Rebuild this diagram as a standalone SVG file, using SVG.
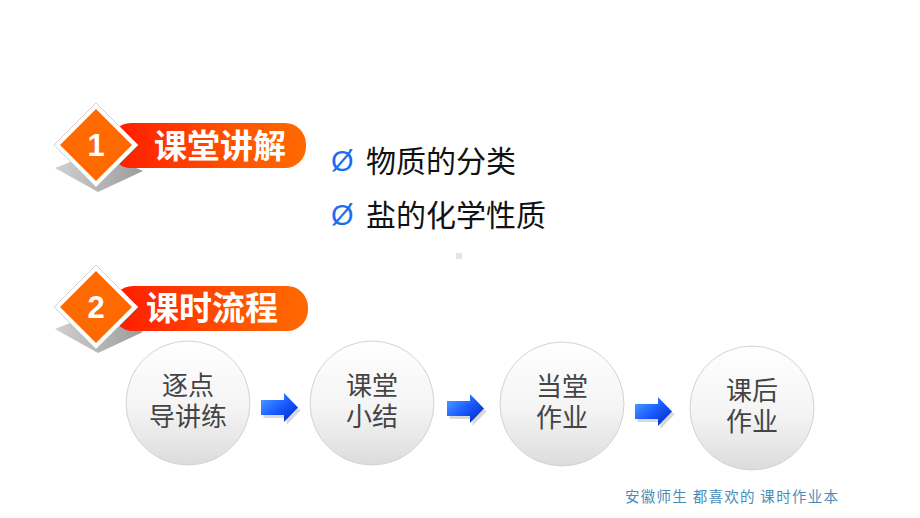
<svg xmlns="http://www.w3.org/2000/svg" width="920" height="518" viewBox="0 0 920 518">
<defs>
<linearGradient id="barG" x1="0" y1="0" x2="1" y2="0">
<stop offset="0" stop-color="#ff1a00"/><stop offset="0.6" stop-color="#ff5000"/><stop offset="1" stop-color="#ff6a00"/>
</linearGradient>
<linearGradient id="shadowG" x1="0" y1="0" x2="1" y2="0">
<stop offset="0" stop-color="#c8c8c8"/><stop offset="1" stop-color="#8a8a8a"/>
</linearGradient>
<linearGradient id="circG" x1="0" y1="0" x2="0" y2="1">
<stop offset="0" stop-color="#ffffff"/><stop offset="0.55" stop-color="#f4f4f4"/><stop offset="1" stop-color="#dcdcdc"/>
</linearGradient>
<linearGradient id="arrG" x1="0" y1="0" x2="1" y2="1">
<stop offset="0" stop-color="#55aaff"/><stop offset="0.5" stop-color="#1a5cff"/><stop offset="1" stop-color="#0022bb"/>
</linearGradient>
<path id="arrow" d="M0,7 H23 V0 L37,14.5 L23,29 V22 H0 Z"/>
</defs>
<style>
.badge{font-family:"Noto Sans CJK SC","Noto Sans",sans-serif;font-weight:bold;fill:#ffffff;font-size:33px}
.num{font-family:"Liberation Sans","Noto Sans",sans-serif;font-weight:bold;fill:#ffffff;font-size:31px}
.bul{font-family:"Liberation Sans",sans-serif;fill:#1a6ef0;font-size:29px}
.item{font-family:"Noto Sans CJK SC",sans-serif;fill:#111111;font-size:30px}
.node{fill:url(#circG);stroke:#d2d2d2;stroke-width:1}
.ntext{font-family:"Liberation Sans","Noto Sans CJK SC",sans-serif;fill:#444444;font-size:26px;text-anchor:middle}
.foot{font-family:"Noto Sans CJK SC",sans-serif;fill:#4a8db8;font-size:14.5px}
</style>
<rect width="920" height="518" fill="#ffffff"/>

<g id="badge1">
<polygon points="55,168 98,151 143,171 98,192" fill="url(#shadowG)" opacity="0.85"/>
<rect x="110" y="123" width="196" height="45" rx="21" fill="url(#barG)"/>
<polygon points="96,103 138,145 96,187 54,145" fill="#ffffff" stroke="#d0d0d0" stroke-width="1"/>
<polygon points="96,109 132,145 96,181 60,145" fill="#ff6a00"/>
<text class="num" x="96" y="156" text-anchor="middle">1</text>
<text class="badge" x="154" y="158">课堂讲解</text>
</g>

<g id="badge2">
<polygon points="55,329 98,312 143,332 98,353" fill="url(#shadowG)" opacity="0.85"/>
<rect x="112" y="286" width="196" height="45" rx="21" fill="url(#barG)"/>
<polygon points="96,265 138,307 96,349 54,307" fill="#ffffff" stroke="#d0d0d0" stroke-width="1"/>
<polygon points="96,271 132,307 96,343 60,307" fill="#ff6a00"/>
<text class="num" x="96" y="318" text-anchor="middle">2</text>
<text class="badge" x="146" y="320">课时流程</text>
</g>

<g id="bullets">
<text class="bul" x="331" y="171">Ø</text>
<text class="item" x="366" y="172">物质的分类</text>
<text class="bul" x="331" y="225">Ø</text>
<text class="item" x="366" y="226">盐的化学性质</text>
</g>

<rect x="456" y="253" width="6" height="6" fill="#e4e4e4"/>

<g id="node1">
<circle class="node" cx="188" cy="403" r="62"/>
<text class="ntext"><tspan x="188" y="395">逐点</tspan><tspan x="188" y="426">导讲练</tspan></text>
</g>
<g id="node2">
<circle class="node" cx="372" cy="403" r="62"/>
<text class="ntext"><tspan x="372" y="395">课堂</tspan><tspan x="372" y="426">小结</tspan></text>
</g>
<g id="node3">
<circle class="node" cx="562" cy="404" r="62"/>
<text class="ntext"><tspan x="562" y="396">当堂</tspan><tspan x="562" y="427">作业</tspan></text>
</g>
<g id="node4">
<circle class="node" cx="752" cy="408" r="62"/>
<text class="ntext"><tspan x="752" y="400">课后</tspan><tspan x="752" y="431">作业</tspan></text>
</g>

<g id="connectors">
<use href="#arrow" x="262" y="394" fill="#000" opacity="0.15" transform="translate(1.5,2)"/>
<use href="#arrow" x="261" y="393" fill="url(#arrG)"/>
<use href="#arrow" x="448" y="395" fill="#000" opacity="0.15" transform="translate(1.5,2)"/>
<use href="#arrow" x="447" y="394" fill="url(#arrG)"/>
<use href="#arrow" x="636" y="398" fill="#000" opacity="0.15" transform="translate(1.5,2)"/>
<use href="#arrow" x="635" y="397" fill="url(#arrG)"/>
</g>

<text class="foot" x="625" y="502" textLength="213" lengthAdjust="spacing">安徽师生 都喜欢的 课时作业本</text>
</svg>
